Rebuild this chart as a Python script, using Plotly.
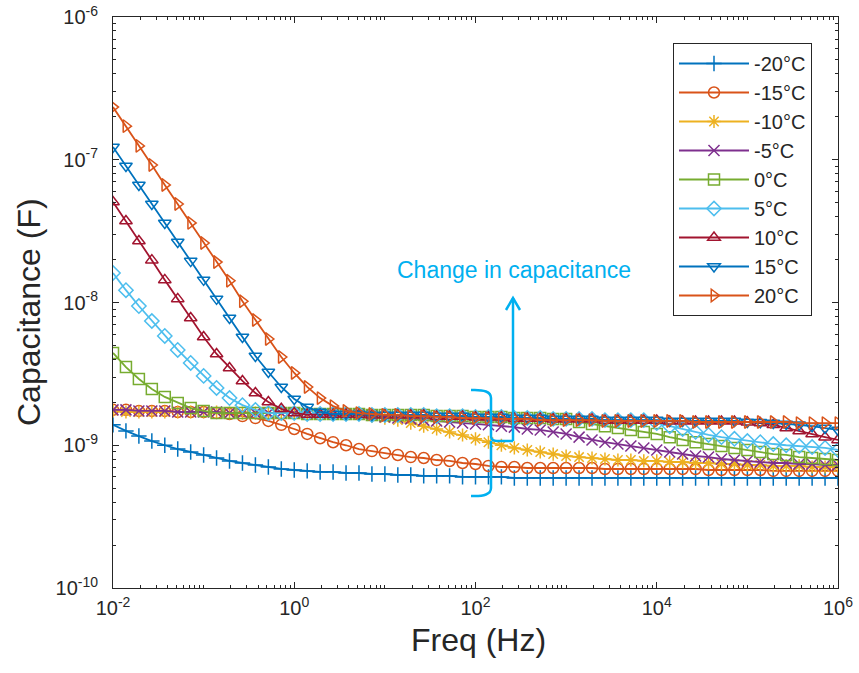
import numpy as np
import plotly.graph_objects as go

# Frequency sweep: 1e-2 .. 1e6 Hz, 7 points per decade
freq_hz = np.logspace(-2, 6, 57)

# Capacitance readings in nF
cap_m20 = [1.39, 1.26, 1.16, 1.07, 1.00, 0.941, 0.897, 0.855, 0.814, 0.776,
           0.751, 0.727, 0.704, 0.682, 0.671, 0.661, 0.650, 0.650, 0.639, 0.639,
           0.629, 0.629, 0.619, 0.619, 0.610, 0.610, 0.610, 0.600, 0.600, 0.600,
           0.600] + [0.590] * 26
cap_m15 = [1.77, 1.77, 1.74, 1.74, 1.74, 1.71, 1.71, 1.71, 1.68, 1.655,
           1.60, 1.55, 1.48, 1.39, 1.30, 1.20, 1.12, 1.05, 1.00, 0.941,
           0.911, 0.882, 0.855, 0.827, 0.814, 0.788, 0.776, 0.751, 0.739, 0.716,
           0.704, 0.704] + [0.693] * 6 + [0.682] * 8 + [0.671] * 5 + [0.661] * 6
cap_m10 = [1.74] + [1.71] * 8 + [1.68] * 6 + [1.655] * 5 + \
          [1.60, 1.55, 1.50, 1.43, 1.36, 1.30, 1.24, 1.18, 1.11, 1.05,
           1.00, 0.957, 0.926, 0.897, 0.868, 0.841, 0.827, 0.814, 0.801, 0.788,
           0.788, 0.776, 0.776, 0.763, 0.763, 0.751, 0.751, 0.739, 0.739, 0.727,
           0.727, 0.716, 0.716, 0.716, 0.704, 0.704, 0.704]
cap_m5 = [1.77, 1.77, 1.74, 1.74, 1.74] + [1.71] * 4 + [1.68] * 6 + [1.655] * 5 + \
         [1.63, 1.58, 1.55, 1.53, 1.50, 1.48, 1.455, 1.43, 1.41, 1.39,
          1.36, 1.34, 1.30, 1.28, 1.24, 1.20, 1.14, 1.09, 1.05, 1.02,
          0.988, 0.957, 0.926, 0.897, 0.868, 0.841, 0.827, 0.801, 0.788, 0.776,
          0.763, 0.751, 0.751, 0.739, 0.739, 0.727, 0.727]
cap_0 = [4.43, 3.53, 2.91, 2.48, 2.18, 1.98, 1.82, 1.74, 1.68] + [1.68] * 6 + \
        [1.655] * 5 + [1.63] * 5 + [1.60] * 3 + [1.58] * 3 + [1.55] * 3 + [1.53] * 2 + \
        [1.455, 1.41, 1.36, 1.32, 1.28, 1.24, 1.20, 1.14, 1.09, 1.05,
         1.02, 0.988, 0.957, 0.926, 0.897, 0.868, 0.855, 0.827, 0.814, 0.801, 0.788]
cap_5 = [16.1, 12.2, 9.45, 7.42, 5.83, 4.65, 3.77, 3.06, 2.52, 2.14, 1.91, 1.77, 1.68] + \
        [1.68] * 2 + [1.655] * 5 + [1.63] * 5 + [1.60] * 3 + [1.58] * 3 + [1.55] * 3 + \
        [1.53] * 4 + [1.50] * 4 + \
        [1.43, 1.36, 1.30, 1.24, 1.18, 1.14, 1.11, 1.07, 1.05, 1.02,
         1.00, 0.988, 0.972, 0.957, 0.926]
cap_10 = [50.6, 37.2, 27.0, 19.8, 14.4, 10.6, 7.79, 5.73, 4.36, 3.48,
          2.82, 2.32, 2.01, 1.80, 1.68, 1.64] + [1.64] * 4 + [1.62] * 5 + [1.59] * 3 + \
         [1.57] * 3 + [1.54] * 3 + [1.52] * 4 + [1.49] * 5 + [1.47] * 6 + [1.45] + \
         [1.43, 1.39, 1.32, 1.26, 1.20, 1.14, 1.09]
cap_15 = [123, 90.4, 66.6, 49.0, 36.1, 26.5, 19.5, 14.4, 10.6, 7.79,
          5.73, 4.22, 3.26, 2.56, 2.11, 1.85, 1.71, 1.655] + [1.655] * 2 + [1.63] * 5 + \
         [1.60] * 3 + [1.58] * 3 + [1.55] * 3 + [1.53] * 4 + [1.50] * 5 + [1.48] * 6 + \
         [1.455] + [1.45, 1.43, 1.41, 1.39, 1.36, 1.32, 1.28]
cap_20 = [234, 172, 125, 91.9, 66.6, 49.0, 36.1, 26.1, 19.2, 14.2,
          10.2, 7.54, 5.55, 4.15, 3.21, 2.56, 2.14, 1.88, 1.74, 1.68,
          1.655, 1.63, 1.63, 1.60, 1.60, 1.58, 1.58, 1.55, 1.55, 1.55,
          1.53, 1.53, 1.53] + [1.50] * 5 + [1.48] * 7 + [1.455] * 8 + [1.43] * 4

series_names = ["-20°C", "-15°C", "-10°C", "-5°C", "0°C", "5°C", "10°C", "15°C", "20°C"]
series_vals = [cap_m20, cap_m15, cap_m10, cap_m5, cap_0, cap_5, cap_10, cap_15, cap_20]
colors = ["#0072BD", "#D95319", "#EDB120", "#7E2F8E", "#77AC30",
          "#4DBEEE", "#A2142F", "#0072BD", "#D95319"]
symbols = ["cross-thin-open", "circle-open", "asterisk-open", "x-thin-open", "square-open",
           "diamond-open", "triangle-up-open", "triangle-down-open", "triangle-right-open"]

x_tick_vals = [1e-2, 1e0, 1e2, 1e4, 1e6]
x_tick_text = ["10<sup>-2</sup>", "10<sup>0</sup>", "10<sup>2</sup>", "10<sup>4</sup>", "10<sup>6</sup>"]
y_tick_vals = [1e-10, 1e-9, 1e-8, 1e-7, 1e-6]
y_tick_text = ["10<sup>-10</sup>", "10<sup>-9</sup>", "10<sup>-8</sup>", "10<sup>-7</sup>", "10<sup>-6</sup>"]

W, H = 859, 673
L, R, T, B = 113, 21, 17, 85
PW, PH = W - L - R, H - T - B

def px(x):
    return (x - L) / PW

def py(y):
    return 1 - (y - T) / PH

FONT = "Liberation Sans, Arial"
fig = go.Figure()
for name, vals, col, sym in zip(series_names, series_vals, colors, symbols):
    fig.add_trace(go.Scatter(
        x=freq_hz, y=np.array(vals) * 1e-9, name=name, mode="lines+markers",
        line=dict(color=col, width=1.8),
        marker=dict(symbol=sym, size=11, color=col, line=dict(color=col, width=1.5)),
    ))

x_minor = [m * 10.0 ** e for e in range(-2, 6) for m in range(2, 10)] + [10.0 ** e for e in (-1, 1, 3, 5)]
y_minor = [m * 10.0 ** e for e in range(-10, -6) for m in range(2, 10)]

axcol = "#262626"
fig.update_xaxes(type="log", range=[-2, 6], tickvals=x_tick_vals, ticktext=x_tick_text,
                 showline=True, linecolor=axcol, linewidth=1, mirror="ticks", automargin=False,
                 ticks="inside", ticklen=6, tickcolor=axcol, showgrid=False, zeroline=False,
                 ticklabelstandoff=2,
                 tickfont=dict(family=FONT, size=20, color=axcol),
                 minor=dict(tickvals=x_minor, ticks="inside", ticklen=3, tickcolor=axcol, showgrid=False))
fig.update_yaxes(type="log", range=[-10, -6], tickvals=y_tick_vals, ticktext=y_tick_text,
                 showline=True, linecolor=axcol, linewidth=1, mirror="ticks", automargin=False,
                 ticks="inside", ticklen=6, tickcolor=axcol, showgrid=False, zeroline=False,
                 ticklabelstandoff=10,
                 tickfont=dict(family=FONT, size=20, color=axcol),
                 minor=dict(tickvals=y_minor, ticks="inside", ticklen=3, tickcolor=axcol, showgrid=False))

cyan = "#00B0F0"
annotations = [
    dict(text="Freq (Hz)", x=px(478), y=py(640), xref="paper", yref="paper", showarrow=False,
         xanchor="center", yanchor="middle",
         font=dict(family=FONT, size=32, color=axcol)),
    dict(text="Capacitance (F)", x=px(29), y=py(312), xref="paper", yref="paper", showarrow=False,
         xanchor="center", yanchor="middle",
         textangle=-90, font=dict(family=FONT, size=32, color=axcol)),
    dict(text="Change in capacitance", x=px(514), y=py(270), xref="paper", yref="paper",
         xanchor="center", yanchor="middle",
         showarrow=False, font=dict(family=FONT, size=23, color=cyan)),
]

shapes = [
    # bracket
    dict(type="path", xref="paper", yref="paper",
         path=(f"M {px(471)},{py(390)} Q {px(491)},{py(389)} {px(491)},{py(398)} "
               f"L {px(491)},{py(436)} Q {px(491)},{py(441)} {px(497)},{py(441)} "
               f"L {px(513)},{py(441)} "
               f"M {px(491)},{py(441)} L {px(491)},{py(488)} "
               f"Q {px(491)},{py(497)} {px(471)},{py(496)}"),
         line=dict(color=cyan, width=2.5)),
    # arrow shaft
    dict(type="line", xref="paper", yref="paper", x0=px(513), y0=py(441), x1=px(513), y1=py(298),
         line=dict(color=cyan, width=2.5)),
    # arrow head
    dict(type="path", xref="paper", yref="paper",
         path=f"M {px(506)},{py(310)} L {px(513)},{py(298)} L {px(520)},{py(310)}",
         line=dict(color=cyan, width=2.5)),
]

fig.update_layout(
    width=W, height=H, margin=dict(l=L, r=R, t=T, b=B, autoexpand=False),
    paper_bgcolor="white", plot_bgcolor="white",
    font=dict(family=FONT, color=axcol),
    annotations=annotations, shapes=shapes,
    legend=dict(x=px(673), y=py(43), xanchor="left", yanchor="top",
                bordercolor=axcol, borderwidth=1, bgcolor="white",
                font=dict(family=FONT, size=20, color=axcol),
                itemwidth=70, tracegroupgap=0),
    showlegend=True,
)

fig.write_html("out.html")
